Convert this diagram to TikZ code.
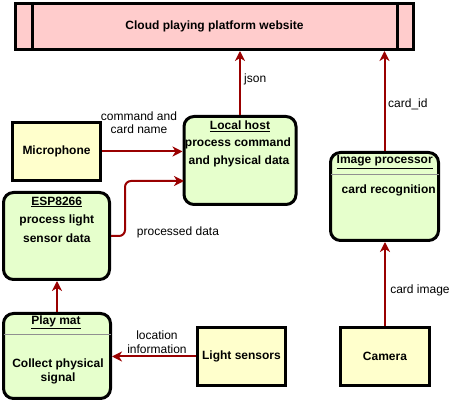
\documentclass[tikz,border=0pt]{standalone}
\usepackage{fontspec}
\setmainfont{Liberation Sans}
\usetikzlibrary{arrows.meta}
\definecolor{arrred}{HTML}{990000}
\definecolor{boxyellow}{HTML}{FFFFCC}
\definecolor{boxgreen}{HTML}{E6FFCC}
\definecolor{boxpink}{HTML}{FFCCCC}
\definecolor{sepgrey}{HTML}{909090}
\begin{document}
\begin{tikzpicture}[x=1pt,y=-1pt,
  sqbox/.style={draw=black, line width=3pt, fill=boxyellow, inner sep=0pt},
  pinkbox/.style={draw=black, line width=3pt, fill=boxpink, inner sep=0pt},
  rbox/.style={draw=black, line width=3pt, fill=boxgreen, rounded corners=10pt, inner sep=0pt},
  txt/.style={font=\fontsize{12}{14}\selectfont\bfseries, inner sep=0pt},
  lbl/.style={font=\fontsize{12}{13.5}\selectfont, inner sep=0pt, align=center},
  sep/.style={draw=sepgrey, line width=1pt},
  arr/.style={draw=arrred, line width=2pt, -{Stealth[length=10pt,width=10pt,inset=3pt]}}]
\useasboundingbox (0,0) rectangle (451,403);

% boxes
\node[pinkbox, txt, minimum width=398pt, minimum height=46pt] (cloud) at (214.5,26.5) {Cloud playing platform website};
\draw[line width=3pt] ([xshift=18pt]cloud.north west) -- ([xshift=18pt]cloud.south west);
\draw[line width=3pt] ([xshift=-18pt]cloud.north east) -- ([xshift=-18pt]cloud.south east);

\node[sqbox, txt, minimum width=88pt, minimum height=58pt] (mic) at (56.5,151.5) {Microphone};

\node[rbox, minimum width=112pt, minimum height=88pt] (lh) at (240,160.5) {};
\node[txt] (lhT) at (240,126) {\underline{Local host}};
\node[txt] (lh1) at (238,143) {process command};
\node[txt] (lh2) at (239,161) {and physical data};

\node[rbox, minimum width=108pt, minimum height=88pt] (ip) at (384.5,196.5) {};
\draw[sep] ([xshift=1.5pt,yshift=-23.5pt]ip.north west) -- ([xshift=-1.5pt,yshift=-23.5pt]ip.north east);
\node[txt] (ipT) at (384.7,162) {\underline{Image processor}};
\node[txt] (ip1) at (388.7,190) {card recognition};

\node[rbox, minimum width=106pt, minimum height=87pt] (esp) at (56.5,236) {};
\node[txt] (espT) at (56.7,202) {\underline{ESP8266}};
\node[txt] (esp1) at (56.8,220) {process light};
\node[txt] (esp2) at (56.8,238) {sensor data};

\node[rbox, minimum width=107pt, minimum height=85pt] (pm) at (57,356) {};
\draw[sep] ([xshift=1.5pt,yshift=-22.5pt]pm.north west) -- ([xshift=-1.5pt,yshift=-22.5pt]pm.north east);
\node[txt] (pmT) at (56,322) {\underline{Play mat}};
\node[txt] (pm1) at (58,364) {Collect physical};
\node[txt] (pm2) at (58,378) {signal};

\node[sqbox, txt, minimum width=88pt, minimum height=58pt] (ls) at (241.5,356.5) {Light sensors};
\node[sqbox, txt, minimum width=89pt, minimum height=58pt] (cam) at (385,356.5) {Camera};

% connectors
\coordinate (lhin) at (184,181);
\draw[arr] (mic.east) -- (mic.east -| lh.west);
\draw[arr, rounded corners=6pt] (esp.east) -- ++(14,0) |- (lhin);
\draw[arr] (lh.north) -- (lh.north |- cloud.south);
\draw[arr] (ip.north) -- (ip.north |- cloud.south);
\draw[arr] (cam.north) -- (cam.north |- ip.south);
\draw[arr] (pm.north) -- (pm.north |- esp.south);
\draw[arr] (ls.west) -- (ls.west -| pm.east);

% labels
\node[lbl] (l1) at (139,122.5) {command and\\card name};
\node[lbl, anchor=west] (l2) at (244,79) {json};
\node[lbl, anchor=west] (l3) at (388,104) {card\_id};
\node[lbl] (l4) at (178,232) {processed data};
\node[lbl] (l5) at (157,342) {location\\information};
\node[lbl] (l6) at (420,290) {card image};
\end{tikzpicture}
\end{document}
